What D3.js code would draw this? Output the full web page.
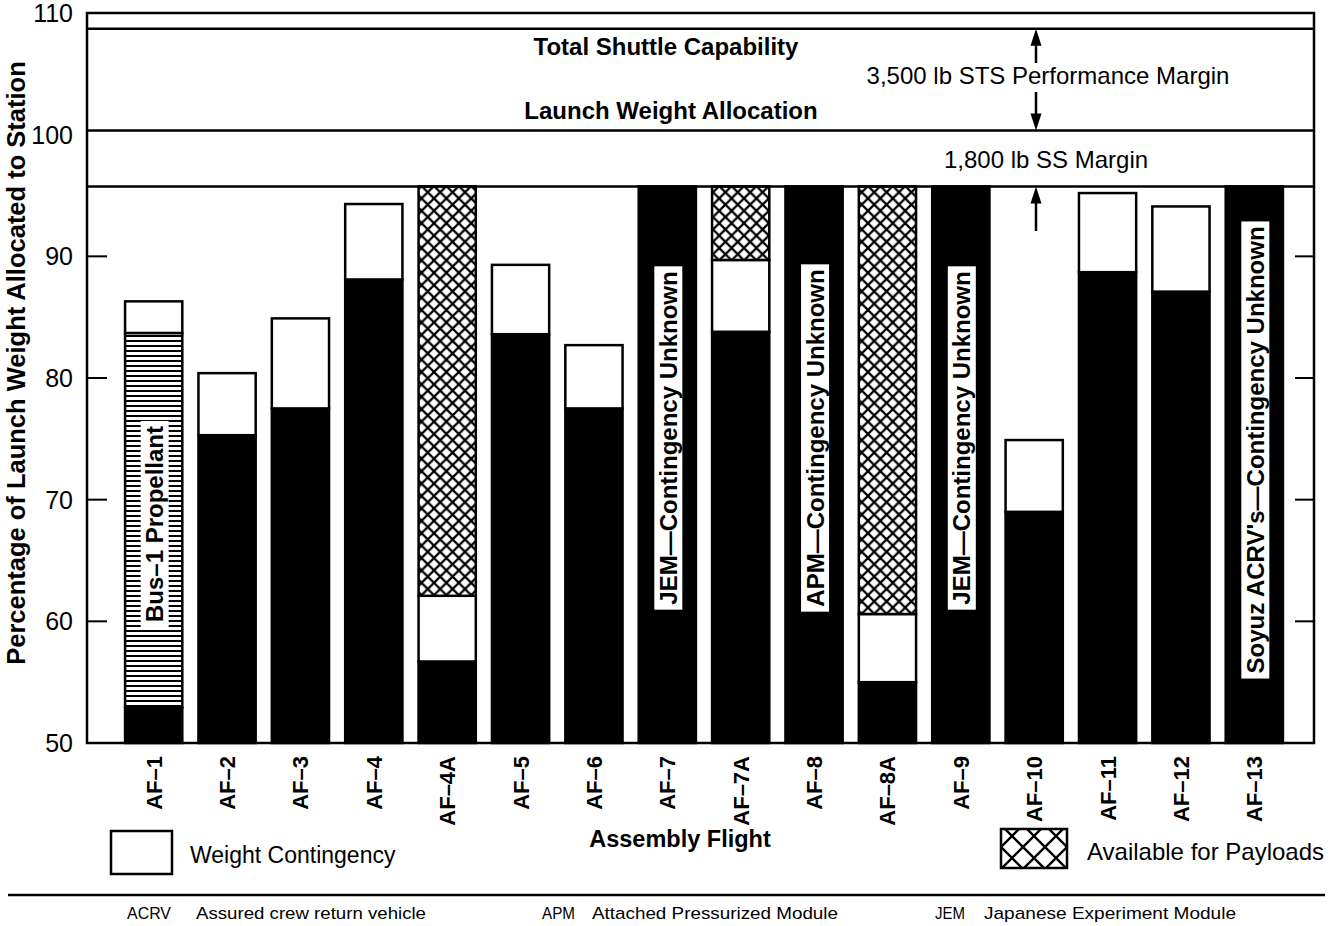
<!DOCTYPE html>
<html>
<head>
<meta charset="utf-8">
<script src="https://cdn.jsdelivr.net/npm/d3@7"></script>
<style>
    body { margin: 0; background: #fff; }
    svg { display: block; font-family: "Liberation Sans", Arial, Helvetica, sans-serif; }
</style>
</head>
<body>
<svg id="chart" width="1338" height="926"></svg>
<script>
// assembly flights along the x axis
const flights = ["AF–1", "AF–2", "AF–3", "AF–4", "AF–4A", "AF–5", "AF–6", "AF–7",
    "AF–7A", "AF–8", "AF–8A", "AF–9", "AF–10", "AF–11", "AF–12", "AF–13"];

// top of each stacked segment, % of launch weight (null = segment absent)
const structureTop = [52.9, 75.3, 77.5, 88.1, 56.7, 83.6, 77.5, 95.75, 83.8, 95.75, 55.0, 95.75, 69.0, 88.7, 87.1, 95.75];
const propellantTop = [83.7, null, null, null, null, null, null, null, null, null, null, null, null, null, null, null];
const contingencyTop = [86.3, 80.4, 84.9, 94.3, 62.1, 89.3, 82.7, null, 89.7, null, 60.6, null, 74.9, 95.2, 94.1, null];
const availableTop = [null, null, null, null, 95.75, null, null, null, 95.75, null, 95.75, null, null, null, null, null];

const barNotes = ["Bus–1 Propellant", null, null, null, null, null, null, "JEM—Contingency Unknown",
    null, "APM—Contingency Unknown", null, "JEM—Contingency Unknown", null, null, null,
    "Soyuz ACRV's—Contingency Unknown"];

// capability lines: total shuttle, launch weight allocation, SS margin
const limitValues = [108.7, 100.35, 95.75];
const yTicks = [50, 60, 70, 80, 90, 100, 110];

const footTerms = ["ACRV", "APM", "JEM"];
const footDefs = ["Assured crew return vehicle", "Attached Pressurized Module", "Japanese Experiment Module"];

const svg = d3.select("#chart");
const plotLeft = 87, plotRight = 1314, plotTop = 13, plotBottom = 743;

const y = d3.scaleLinear().domain([50, 110]).range([plotBottom, plotTop]);
const x = d3.scaleBand().domain(flights).range([117, 1291]).paddingInner(0.22).paddingOuter(0.11);

// patterns
const defs = svg.append("defs");
const stripes = defs.append("pattern").attr("id", "stripes")
    .attr("patternUnits", "userSpaceOnUse").attr("width", 10).attr("height", 5);
stripes.append("rect").attr("width", 10).attr("height", 5).attr("fill", "#fff");
stripes.append("rect").attr("width", 10).attr("height", 2).attr("fill", "#000");

function hatch(id, size, w) {
    const p = defs.append("pattern").attr("id", id)
        .attr("patternUnits", "userSpaceOnUse").attr("width", size).attr("height", size);
    p.append("rect").attr("width", size).attr("height", size).attr("fill", "#fff");
    p.append("path").attr("d", `M0,0L${size},${size}M${size},0L0,${size}`)
        .attr("stroke", "#000").attr("stroke-width", w).attr("stroke-linecap", "square");
}
hatch("hatch", 12.4, 2.2);
hatch("hatchBig", 22, 2.4);

// stacked segments
const segments = [];
flights.forEach(function (f, i) {
    let base = 50;
    const push = function (topVal, kind) {
        if (topVal == null) return;
        segments.push({ f: f, from: base, to: topVal, kind: kind });
        base = topVal;
    };
    push(structureTop[i], "structure");
    push(propellantTop[i], "propellant");
    push(contingencyTop[i], "contingency");
    push(availableTop[i], "available");
});

const fills = { structure: "#000", propellant: "url(#stripes)", contingency: "#fff", available: "url(#hatch)" };

svg.append("g").selectAll("rect")
    .data(segments.filter(d => d.kind == "structure").concat(segments.filter(d => d.kind != "structure")))
    .join("rect")
    .attr("x", d => x(d.f))
    .attr("width", x.bandwidth())
    .attr("y", d => y(d.to))
    .attr("height", d => y(d.from) - y(d.to))
    .attr("fill", d => fills[d.kind])
    .attr("stroke", "#000")
    .attr("stroke-width", 2.5);

// labels inside bars
const noteCenter = { 0: 524, 7: 438, 9: 438, 11: 438, 15: 450 };
flights.forEach(function (f, i) {
    if (!barNotes[i]) return;
    const cx = x(f) + x.bandwidth() / 2 + 1;
    const g = svg.append("g").attr("transform", `translate(${cx},${noteCenter[i]}) rotate(-90)`);
    const t = g.append("text")
        .attr("text-anchor", "middle")
        .attr("dy", "0.36em")
        .attr("font-size", 24)
        .attr("font-weight", "bold")
        .text(barNotes[i]);
    const len = t.node().getComputedTextLength();
    g.insert("rect", "text")
        .attr("x", -len / 2 - 5).attr("y", -14)
        .attr("width", len + 10).attr("height", 28)
        .attr("fill", "#fff");
});

// frame and capability lines
svg.append("rect").attr("x", plotLeft).attr("y", plotTop)
    .attr("width", plotRight - plotLeft).attr("height", plotBottom - plotTop)
    .attr("fill", "none").attr("stroke", "#000").attr("stroke-width", 2.5);

svg.append("g").selectAll("line").data(limitValues).join("line")
    .attr("x1", plotLeft).attr("x2", plotRight)
    .attr("y1", d => y(d)).attr("y2", d => y(d))
    .attr("stroke", "#000").attr("stroke-width", 2.5);

// y ticks on both sides
const innerTicks = yTicks.filter(d => d > 50 && d < 100);
svg.append("g").selectAll("line").data(innerTicks).join("line")
    .attr("x1", plotLeft).attr("x2", plotLeft + 20)
    .attr("y1", d => y(d)).attr("y2", d => y(d))
    .attr("stroke", "#000").attr("stroke-width", 2);
svg.append("g").selectAll("line").data(innerTicks).join("line")
    .attr("x1", plotRight - 19).attr("x2", plotRight)
    .attr("y1", d => y(d)).attr("y2", d => y(d))
    .attr("stroke", "#000").attr("stroke-width", 2);

svg.append("g").selectAll("text").data(yTicks).join("text")
    .attr("x", 73).attr("y", d => y(d)).attr("dy", "0.36em")
    .attr("text-anchor", "end").attr("font-size", 25)
    .text(d => d);

svg.append("text")
    .attr("transform", `translate(25,${(plotTop + plotBottom) / 2 - 15}) rotate(-90)`)
    .attr("text-anchor", "middle").attr("font-size", 25.5).attr("font-weight", "bold")
    .text("Percentage of Launch Weight Allocated to Station");

// x labels
svg.append("g").selectAll("text").data(flights).join("text")
    .attr("transform", d => `translate(${x(d) + x.bandwidth() / 2 + 8},756) rotate(-90)`)
    .attr("text-anchor", "end").attr("font-size", 22).attr("font-weight", "bold")
    .text(d => d);

svg.append("text").attr("x", 680).attr("y", 847)
    .attr("text-anchor", "middle").attr("font-size", 23.5).attr("font-weight", "bold")
    .text("Assembly Flight");

// texts in the margin band
svg.append("text").attr("x", 666).attr("y", 55)
    .attr("text-anchor", "middle").attr("font-size", 24).attr("font-weight", "bold")
    .text("Total Shuttle Capability");
svg.append("text").attr("x", 671).attr("y", 119)
    .attr("text-anchor", "middle").attr("font-size", 24).attr("font-weight", "bold")
    .text("Launch Weight Allocation");
svg.append("text").attr("x", 1048).attr("y", 84)
    .attr("text-anchor", "middle").attr("font-size", 24)
    .text("3,500 lb STS Performance Margin");
svg.append("text").attr("x", 1046).attr("y", 168)
    .attr("text-anchor", "middle").attr("font-size", 24)
    .text("1,800 lb SS Margin");

// arrows
function arrow(ax, yFrom, yTo) {
    const dir = yTo < yFrom ? 1 : -1;
    svg.append("line").attr("x1", ax).attr("x2", ax)
        .attr("y1", yFrom).attr("y2", yTo + dir * 10)
        .attr("stroke", "#000").attr("stroke-width", 2.5);
    svg.append("path")
        .attr("d", `M${ax},${yTo}L${ax - 5.5},${yTo + dir * 17}L${ax + 5.5},${yTo + dir * 17}Z`)
        .attr("fill", "#000");
}
arrow(1036, 63, y(limitValues[0]));
arrow(1036, 92, y(limitValues[1]));
arrow(1036, 231, y(limitValues[2]));

// legend
svg.append("rect").attr("x", 111).attr("y", 831).attr("width", 61).attr("height", 43)
    .attr("fill", "#fff").attr("stroke", "#000").attr("stroke-width", 2.5);
svg.append("text").attr("x", 190).attr("y", 863).attr("font-size", 23)
    .text("Weight Contingency");
svg.append("rect").attr("x", 1001).attr("y", 829).attr("width", 66).attr("height", 39)
    .attr("fill", "url(#hatchBig)").attr("stroke", "#000").attr("stroke-width", 2.5);
svg.append("text").attr("x", 1087).attr("y", 860).attr("font-size", 24)
    .text("Available for Payloads");

// rule and footnotes
svg.append("line").attr("x1", 8).attr("x2", 1325).attr("y1", 895).attr("y2", 895)
    .attr("stroke", "#000").attr("stroke-width", 2.5);

const termX = [127, 542, 935], termLen = [44, 33, 30];
const defX = [196, 592, 984], defLen = [230, 246, 252];
svg.append("g").selectAll("text").data(footTerms).join("text")
    .attr("x", (d, i) => termX[i]).attr("y", 919).attr("font-size", 17)
    .attr("textLength", (d, i) => termLen[i]).attr("lengthAdjust", "spacingAndGlyphs")
    .text(d => d);
svg.append("g").selectAll("text").data(footDefs).join("text")
    .attr("x", (d, i) => defX[i]).attr("y", 919).attr("font-size", 17)
    .attr("textLength", (d, i) => defLen[i]).attr("lengthAdjust", "spacingAndGlyphs")
    .text(d => d);
</script>
</body>
</html>
